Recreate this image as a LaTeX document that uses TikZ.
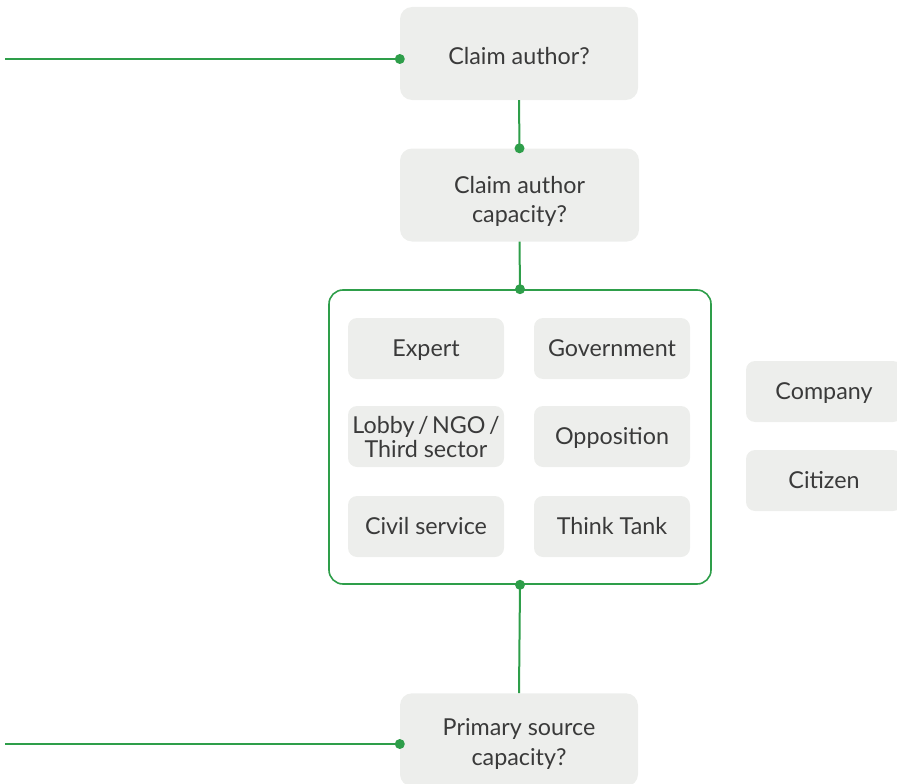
\documentclass[tikz,border=0pt]{standalone}
\usepackage{fontspec}
\setmainfont{Lato}
\definecolor{gr}{HTML}{2E9E4A}
\definecolor{boxfill}{HTML}{EDEEEC}
\definecolor{txt}{HTML}{3A3A3A}
\begin{document}
\begin{tikzpicture}[x=1pt,y=-1pt,
  qbox/.style={rectangle,rounded corners=12pt,fill=boxfill,draw=none,text=txt,align=center,inner sep=0pt,minimum width=238pt,minimum height=93pt,font=\fontsize{23.3}{29}\selectfont},
  sbox/.style={rectangle,rounded corners=9pt,fill=boxfill,draw=none,text=txt,align=center,inner sep=0pt,minimum width=156pt,minimum height=61pt,font=\fontsize{23.3}{24}\selectfont,text height=15.5pt,text depth=0pt},
  conn/.style={draw=gr,line width=2pt},
  dotc/.style={circle,fill=gr,inner sep=0pt,minimum size=10pt}]
\useasboundingbox (0,0) rectangle (897,784);
\begin{scope}
\clip (0,0) rectangle (897,784);
\node[qbox,text height=21pt,text depth=0pt] (b1) at (519,53.5) {Claim author?};
\node[qbox,minimum width=239pt,text height=55.4pt,text depth=0pt] (b2) at (519.5,195) {Claim author\\capacity?};
\node[rectangle,rounded corners=14pt,draw=gr,line width=1.6pt,minimum width=382pt,minimum height=294pt,inner sep=0pt] (ct) at (520,437) {};
\node[sbox] (expert) at (426,348.5) {Expert};
\node[sbox] (gov) at (612,348.5) {Government};
\node[sbox,text height=41pt,text depth=0pt] (lobby) at (426,436.5) {Lobby\hspace{3.5pt}/\hspace{3.5pt}NGO\hspace{3.5pt}/\\Third sector};
\node[sbox] (opp) at (612,436.5) {Opposition};
\node[sbox] (civil) at (426,526.5) {Civil service};
\node[sbox] (think) at (612,526.5) {Think Tank};
\node[sbox] (company) at (824,391.5) {Company};
\node[sbox] (citizen) at (824,480.5) {Citizen};
\node[qbox,font=\fontsize{23.3}{30}\selectfont,text height=50.4pt,text depth=0pt] (b3) at (519,739.8) {Primary source\\capacity?};
\coordinate (l1) at (5,59);
\coordinate (l2) at (5,744);
\draw[conn] (l1) -- (l1 -| b1.west) node[dotc] {};
\draw[conn] (l2) -- (l2 -| b3.west) node[dotc] {};
\draw[conn] (b1.south) -- (b2.north) node[dotc] {};
\draw[conn] (b2.south) -- (ct.north) node[dotc] {};
\draw[conn] (ct.south) node[dotc] {} -- (b3.north);
\end{scope}
\end{tikzpicture}
\end{document}
